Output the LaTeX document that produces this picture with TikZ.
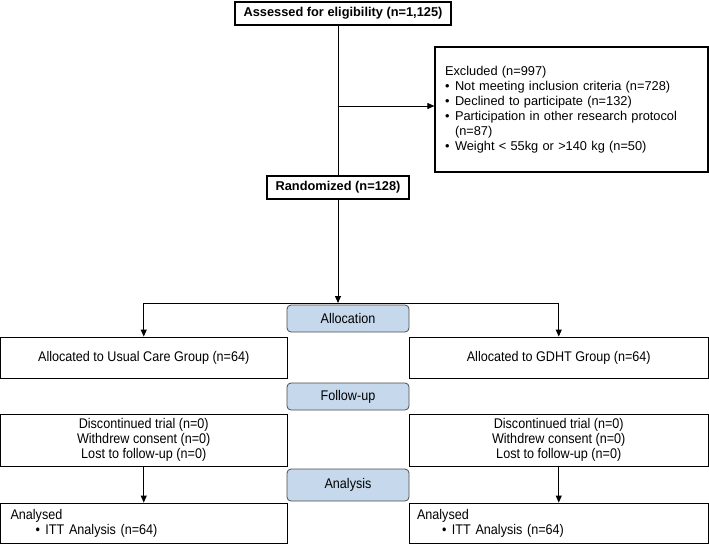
\documentclass[tikz,border=0pt]{standalone}
\usepackage{fontspec}
\setmainfont{Liberation Sans}
\newfontfamily\narrowfont[FakeStretch=0.9]{Liberation Sans}
\usetikzlibrary{arrows.meta}
\definecolor{phaseblue}{RGB}{198,217,236}
\newcommand{\bitem}{\makebox[10pt][l]{\textbullet}}

\begin{document}
\begin{tikzpicture}[x=1pt, y=-1pt,
    box/.style={draw, line width=0.9pt, inner sep=0pt, align=center,
      font=\narrowfont\fontsize{14pt}{15pt}\selectfont},
    topbox/.style={draw, line width=1.2pt, inner sep=0pt, align=center,
      font=\bfseries\fontsize{12.8pt}{15pt}\selectfont},
    phase/.style={draw=black!70, line width=0.8pt, fill=phaseblue, rounded corners=4pt,
      minimum width=122pt, minimum height=27pt, font=\narrowfont\fontsize{14pt}{15pt}\selectfont},
    arr/.style={-{Triangle[width=6pt,length=7pt]}, line width=0.9pt}]
  \useasboundingbox (0,0) rectangle (709,544);
  % Enrollment: assessed, excluded, randomized
  \node[topbox, minimum width=216pt, minimum height=23pt] (assess) at (343,13.5)
    {Assessed for eligibility (n=1,125)};
  \node[topbox, font=\fontsize{12.8pt}{15pt}\selectfont, align=left, text width=253pt,
    inner xsep=10pt, minimum height=125pt] (excl) at (571.5,109.5)
    {Excluded (n=997)\\
     \bitem Not meeting inclusion criteria (n=728)\\
     \bitem Declined to participate (n=132)\\
     \bitem Participation in other research protocol\\
     \hspace*{10pt}(n=87)\\
     \bitem Weight < 55kg or >140 kg (n=50)};
  \node[topbox, minimum width=142pt, minimum height=23pt] (rand) at (338,187.5)
    {Randomized (n=128)};
  % Phase labels
  \node[phase] (alloc) at (348,318.5) {Allocation};
  \node[phase] (fup) at (348,396.5) {Follow-up};
  \node[phase, minimum height=32pt] (anl) at (348,485) {Analysis};
  % Usual care arm
  \node[box, minimum width=286.5pt, minimum height=41pt] (lalloc) at (143.75,357.5)
    {Allocated to Usual Care Group (n=64)};
  \node[box, minimum width=286.5pt, minimum height=52pt] (lfup) at (143.75,440)
    {Discontinued trial (n=0)\\Withdrew consent (n=0)\\Lost to follow-up (n=0)};
  \node[box, align=left, text width=266.5pt, inner xsep=10pt, minimum height=40pt] (lana) at (143.75,523)
    {Analysed\\\hspace*{25pt}\bitem ITT Analysis (n=64)};
  % GDHT arm
  \node[box, minimum width=299.5pt, minimum height=41pt] (ralloc) at (558.75,357.5)
    {Allocated to GDHT Group (n=64)};
  \node[box, minimum width=299.5pt, minimum height=52pt] (rfup) at (558.75,440)
    {Discontinued trial (n=0)\\Withdrew consent (n=0)\\Lost to follow-up (n=0)};
  \node[box, align=left, text width=283.5pt, inner xsep=8pt, minimum height=40pt] (rana) at (558.75,523)
    {Analysed\\\hspace*{25pt}\bitem ITT Analysis (n=64)};
  % Connectors
  \coordinate (excljoin) at (338,106);
  \coordinate (fork) at (338,303);
  \draw[line width=0.9pt] (rand.north |- assess.south) -- (rand.north);
  \draw[arr] (excljoin) -- (excljoin -| excl.west);
  \draw[arr] (rand.south) -- (fork);
  \draw[arr] (fork) -| (lalloc.north);
  \draw[arr] (fork) -| (ralloc.north);
  \draw[arr] (lfup.south) -- (lana.north);
  \draw[arr] (rfup.south) -- (rana.north);
\end{tikzpicture}
\end{document}
